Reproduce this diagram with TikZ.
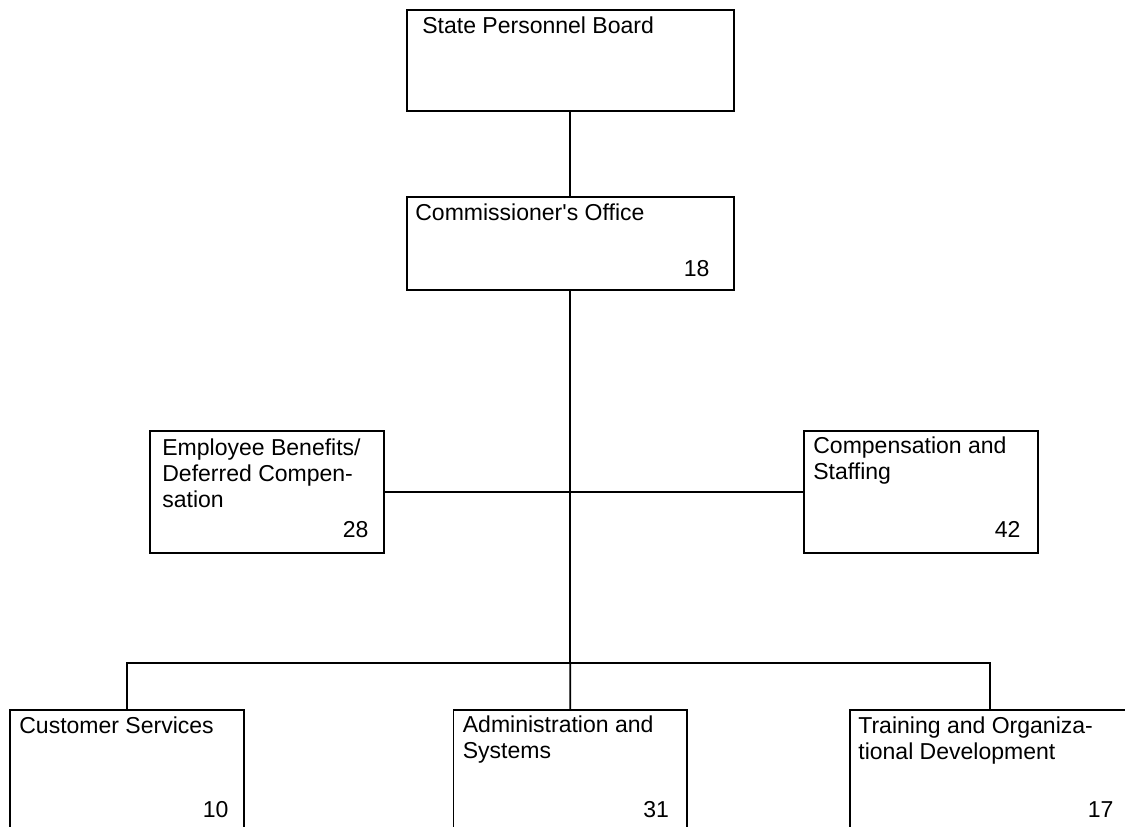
\documentclass[tikz,border=0pt]{standalone}
\usepackage{fontspec}
\setmainfont{Liberation Sans}

\begin{document}
\begin{tikzpicture}[
	x=0.02cm, y=-0.02cm,
	every node/.style={inner sep=0pt, font=\fontsize{13.1}{14.8}\selectfont},
	unit/.style={draw, line width=1pt, rectangle, anchor=north west, minimum width=4.68cm},
	title/.style={anchor=north west, align=left},
	count/.style={anchor=base east},
	edge/.style={draw, line width=1pt}
	]
	
	\clip (0,0) rectangle (1125,827);
	
	% Define boxes
	\node (board) [unit, minimum height=2.02cm, minimum width=6.54cm] at (406,9) {};
	\node (office) [unit, minimum height=1.86cm, minimum width=6.54cm] at (406,196) {};
	\node (benefits) [unit, minimum height=2.44cm] at (149,430) {};
	\node (staffing) [unit, minimum height=2.44cm] at (803,430) {};
	\node (customer) [unit, minimum height=2.8cm] at (9,709) {};
	\node (admin) [unit, minimum height=2.8cm] at (452.5,709) {};
	\node (training) [unit, minimum height=2.8cm, minimum width=5.6cm] at (849,709) {};
	
	% Box texts
	\node (boardTitle) [title] at ([shift={(16,7)}]board.north west) {State Personnel Board};
	\node (officeTitle) [title] at ([shift={(9,7)}]office.north west) {Commissioner\textquotesingle s Office};
	\node (officeCount) [count] at ([shift={(-25,81)}]office.north east) {18};
	\node (benefitsTitle) [title] at ([shift={(13,8)}]benefits.north west) {Employee Benefits/\\Deferred Compen-\\sation};
	\node (benefitsCount) [count] at ([shift={(-16,107)}]benefits.north east) {28};
	\node (staffingTitle) [title] at ([shift={(10,6)}]staffing.north west) {Compensation and\\Staffing};
	\node (staffingCount) [count] at ([shift={(-18,107)}]staffing.north east) {42};
	\node (customerTitle) [title] at ([shift={(10,7)}]customer.north west) {Customer Services};
	\node (customerCount) [count] at ([shift={(-16,108)}]customer.north east) {10};
	\node (adminTitle) [title] at ([shift={(10,6)}]admin.north west) {Administration and\\Systems};
	\node (adminCount) [count] at ([shift={(-19,108)}]admin.north east) {31};
	\node (trainingTitle) [title] at ([shift={(9,7)}]training.north west) {Training and Organiza-\\tional Development};
	\node (trainingCount) [count] at ([shift={(-17,108)}]training.north east) {17};
	
	% Draw edges
	\coordinate (lowerJoin) at (office.south |- 0,663);
	\path [edge] (board) -- (office);
	\path [edge] (benefits) -- (staffing);
	\path [edge] (office) -- (lowerJoin);
	\path [edge] (lowerJoin) -| (customer);
	\path [edge] (lowerJoin) -- (admin);
	\path [edge] (lowerJoin) -| (training);
	
\end{tikzpicture}
\end{document}
